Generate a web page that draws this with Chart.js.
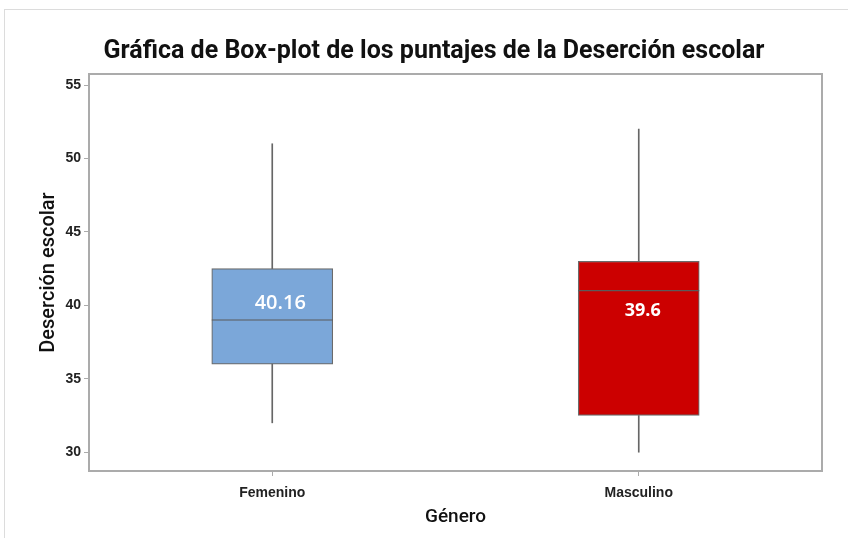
<!DOCTYPE html>
<html>
<head>
<meta charset="utf-8">
<script src="https://cdn.jsdelivr.net/npm/chart.js@4.4.1/dist/chart.umd.min.js"></script>
<style>
  body { margin: 0; background: #fff; }
  #wrap { position: relative; width: 848px; height: 538px; overflow: hidden; }
  #frame { position: absolute; left: 4px; top: 9px; width: 900px; height: 600px;
           border-top: 1px solid #dcdcdc; border-left: 1px solid #dcdcdc; pointer-events: none; }
</style>
</head>
<body>
<div id="wrap">
  <canvas id="boxChart" width="848" height="538"></canvas>
  <div id="frame"></div>
</div>
<script>
// Box-plot values per group
const categories = ['Femenino', 'Masculino'];
const whiskerLow = [32, 30];
const q1 = [36, 32.5];
const median = [39, 41];
const q3 = [42.5, 43];
const whiskerHigh = [51, 52];
const means = [40.16, 39.6];
const meanLabels = ['40.16', '39.6'];
const yTicks = [30, 35, 40, 45, 50, 55];

const boxColors = ['#7ba7d9', '#cc0000'];

// draws the frame, median lines and mean labels
const boxExtras = {
    id: 'boxExtras',
    afterDatasetsDraw(chart) {
        const c = chart.ctx;
        const y = chart.scales.y;
        const boxes = chart.getDatasetMeta(2).data;
        c.save();
        c.strokeStyle = '#5a5a5a';
        c.lineWidth = 1.2;
        boxes.forEach((bar, i) => {
            const py = y.getPixelForValue(median[i]);
            c.beginPath();
            c.moveTo(bar.x - bar.width / 2, py);
            c.lineTo(bar.x + bar.width / 2, py);
            c.stroke();
        });
        c.fillStyle = '#fff';
        c.textAlign = 'center';
        c.textBaseline = 'middle';
        boxes.forEach((bar, i) => {
            c.font = i === 0 ? '600 20px "Open Sans"' : 'bold 18px "Open Sans"';
            c.fillText(meanLabels[i], bar.x + (i === 0 ? 8 : 4), y.getPixelForValue(means[i]));
        });
        const a = chart.chartArea;
        c.strokeStyle = '#ababab';
        c.lineWidth = 2;
        c.strokeRect(a.left, a.top, a.right - a.left, a.bottom - a.top);
        c.restore();
    }
};

new Chart(document.getElementById('boxChart'), {
    type: 'bar',
    data: {
        labels: categories,
        datasets: [
            {
                data: categories.map((_, i) => [whiskerLow[i], q1[i]]),
                backgroundColor: '#666',
                barThickness: 1,
                grouped: false
            },
            {
                data: categories.map((_, i) => [q3[i], whiskerHigh[i]]),
                backgroundColor: '#666',
                barThickness: 1,
                grouped: false
            },
            {
                data: categories.map((_, i) => [q1[i], q3[i]]),
                backgroundColor: boxColors,
                borderColor: '#6b6b6b',
                borderWidth: 1.2,
                borderSkipped: false,
                barThickness: 121,
                grouped: false
            }
        ]
    },
    options: {
        responsive: false,
        animation: false,
        layout: { padding: { left: 46, right: 26, top: 0, bottom: 0 } },
        plugins: {
            legend: { display: false },
            tooltip: { enabled: false },
            title: {
                display: true,
                text: 'Gráfica de Box-plot de los puntajes de la Deserción escolar',
                color: '#111',
                font: { family: 'Roboto', size: 25, weight: 'bold' },
                padding: { top: 37, bottom: 7 }
            }
        },
        scales: {
            x: {
                offset: true,
                grid: { display: true, offset: false, drawOnChartArea: false, drawTicks: true, tickLength: 5, color: '#ababab' },
                border: { display: false },
                ticks: { color: '#222', font: { family: 'Liberation Sans', size: 14, weight: 'bold' }, padding: 9 },
                title: {
                    display: true,
                    text: 'Género',
                    color: '#111',
                    font: { family: 'Roboto', size: 19, weight: '500' },
                    padding: { top: 4, bottom: 9 }
                },
                afterFit(s) { s.height = 67; }
            },
            y: {
                min: 28.72,
                max: 55.75,
                grid: { display: true, drawOnChartArea: false, drawTicks: true, tickLength: 5, color: '#ababab' },
                border: { display: false },
                ticks: { color: '#222', font: { family: 'Liberation Sans', size: 14, weight: 'bold' }, padding: 3 },
                afterBuildTicks(s) { s.ticks = yTicks.map(v => ({ value: v })); },
                title: {
                    display: true,
                    text: 'Deserción escolar',
                    color: '#111',
                    font: { family: 'Roboto', size: 20, weight: '500' },
                    padding: { top: -9 }
                },
                afterFit(s) { s.width = 43; }
            }
        }
    },
    plugins: [boxExtras]
});
</script>
</body>
</html>
